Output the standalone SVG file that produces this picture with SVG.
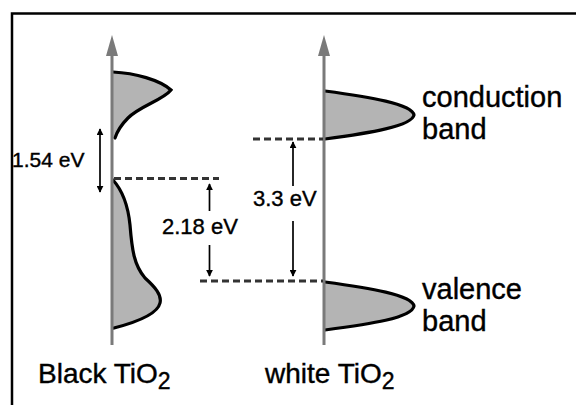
<svg xmlns="http://www.w3.org/2000/svg" width="576" height="405" viewBox="0 0 576 405">
<style>
.axis{stroke:#7a7a7a;stroke-width:3;fill:none}
.head{fill:#7a7a7a}
.band{fill:#b4b4b4;stroke:none}
.edge{fill:none;stroke:#000;stroke-width:3.2;stroke-linecap:round}
.dash{stroke:#333;stroke-width:3;stroke-dasharray:7 4;fill:none}
.arr{stroke:#000;stroke-width:1.7;fill:none}
.t{font-family:"Liberation Sans",Arial,sans-serif;fill:#000;stroke:#000;stroke-width:0.4}
</style>
<defs>
<marker id="ah" viewBox="0 0 10 10" refX="9" refY="5" markerWidth="7" markerHeight="7" orient="auto-start-reverse" markerUnits="userSpaceOnUse">
<path d="M0,0 L10,5 L0,10 Z" fill="#000"/>
</marker>
</defs>
<rect x="0" y="0" width="576" height="405" fill="#fff"/>
<rect x="12" y="13.5" width="600" height="420" fill="none" stroke="#000" stroke-width="2.5"/>

<g id="black-tio2">
<path class="band" d="M112,72 C135,73 160,80 171,90 C163,100 140,106 128,118 C121,125 117,132 115,138 L112,138 Z"/>
<path class="edge" d="M113,72 C135,73 160,80 171,90 C163,100 140,106 128,118 C121,125 117,132 115,138"/>
<path class="band" d="M112,180 C122,190 128,205 130,225 C132,250 134,265 145,278 C155,287 162,295 160,303 C158,312 145,320 112,328 Z"/>
<path class="edge" d="M113,180 C122,190 128,205 130,225 C132,250 134,265 145,278 C155,287 162,295 160,303 C158,312 145,320 114,328"/>
<line class="axis" x1="112" y1="52" x2="112" y2="345"/>
<path class="head" d="M112,35 L118,56 L106,56 Z"/>
<text class="t" x="38" y="383" font-size="28">Black TiO<tspan font-size="23" dy="6">2</tspan></text>
</g>

<g id="white-tio2">
<path class="band" d="M324,91 C370,97 412,104 414,115 C412,126 370,133 324,139 Z"/>
<path class="edge" d="M325,91 C370,97 412,104 414,115 C412,126 370,133 325,139"/>
<path class="band" d="M324,282 C370,288 412,295 414,306 C412,318 370,324 324,330 Z"/>
<path class="edge" d="M325,282 C370,288 412,295 414,306 C412,318 370,324 325,330"/>
<line class="axis" x1="324" y1="52" x2="324" y2="345"/>
<path class="head" d="M324,35 L330,56 L318,56 Z"/>
<text class="t" x="265" y="383" font-size="28">white TiO<tspan font-size="23" dy="6">2</tspan></text>
</g>

<g id="conduction-label">
<text class="t" x="422" y="107" font-size="29">conduction</text>
<text class="t" x="422" y="139" font-size="29">band</text>
</g>
<g id="valence-label">
<text class="t" x="422" y="299" font-size="29">valence</text>
<text class="t" x="422" y="331" font-size="29">band</text>
</g>

<g id="connectors">
<line class="dash" x1="114" y1="178.5" x2="219" y2="178.5"/>
<line class="dash" x1="253" y1="139" x2="323" y2="139"/>
<line class="dash" x1="200" y1="281" x2="323" y2="281"/>
<line class="arr" x1="100" y1="129" x2="100" y2="192" marker-start="url(#ah)" marker-end="url(#ah)"/>
<line class="arr" x1="209.5" y1="211" x2="209.5" y2="184" marker-end="url(#ah)"/>
<line class="arr" x1="209.5" y1="245" x2="209.5" y2="276" marker-end="url(#ah)"/>
<line class="arr" x1="293" y1="186" x2="293" y2="142" marker-end="url(#ah)"/>
<line class="arr" x1="293" y1="221" x2="293" y2="276" marker-end="url(#ah)"/>
</g>

<g id="gap-labels">
<text class="t" x="12" y="167" font-size="21">1.54 eV</text>
<text class="t" x="162" y="234" font-size="22">2.18 eV</text>
<text class="t" x="253" y="206" font-size="22">3.3 eV</text>
</g>
</svg>
